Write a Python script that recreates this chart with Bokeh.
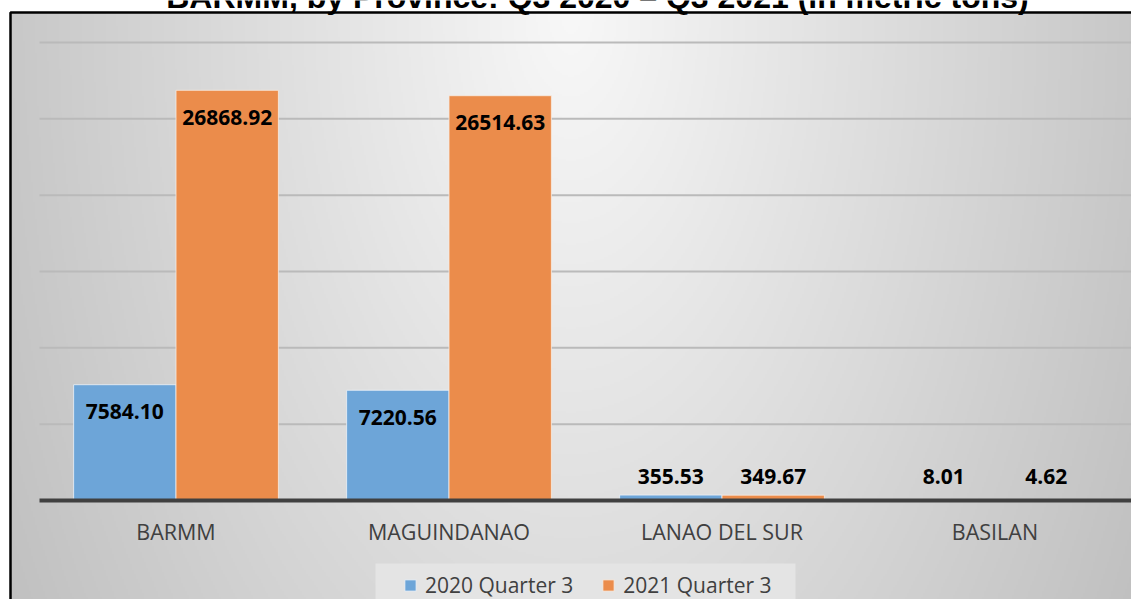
import numpy as np
from bokeh.plotting import figure
from bokeh.models import (ColumnDataSource, Range1d, LinearAxis, FixedTicker,
                          Legend, LegendItem, Label)
from bokeh.core.properties import value
from bokeh.embed import file_html
from bokeh.resources import INLINE

# ---------------- data ----------------
categories = ["BARMM", "MAGUINDANAO", "LANAO DEL SUR", "BASILAN"]
series_names = ["2020 Quarter 3", "2021 Quarter 3"]
q3_2020 = [7584.10, 7220.56, 355.53, 8.01]
q3_2021 = [26868.92, 26514.63, 349.67, 4.62]
grid_values = [5000, 10000, 15000, 20000, 25000, 30000]
title_text = "BARMM, by Province: Q3 2020 \u2013 Q3 2021 (in metric tons)"

# ---------------- layout (canvas pixels) ----------------
W, H = 1131, 599
CAT_PX = 273.0      # width of one category
X0_PX = 39.0        # left edge of first category
Y0_PX = 500.0       # canvas y of value 0
YTOP_PX = 42.0      # canvas y of value 30000
YREF = 30000.0
ppu = (Y0_PX - YTOP_PX) / YREF

x_start = -0.5 - X0_PX / CAT_PX
x_end = x_start + W / CAT_PX
y_end = Y0_PX / ppu
y_start = y_end - H / ppu


def px2x(cx):
    return x_start + cx / CAT_PX


def px2y(cy):
    return y_end - cy / ppu


p = figure(width=W, height=H, output_backend="svg", toolbar_location=None,
           x_axis_location=None, y_axis_location=None,
           x_range=Range1d(x_start, x_end), y_range=Range1d(y_start, y_end),
           min_border=0, outline_line_color=None)
p.background_fill_color = "white"
p.border_fill_color = "white"
p.xgrid.visible = False
p.ygrid.visible = False

# ---------------- gradient background ----------------
nx, ny = 566, 300
gx = np.linspace(0, 1, nx)
gy = np.linspace(1, 0, ny)  # row 0 = bottom
GX, GY = np.meshgrid(gx, gy)
r = np.sqrt(((GX - 0.5) / 0.5) ** 2 + (GY * 0.58) ** 2)
b = np.clip(248 - 48 * r, 188, 250).astype(np.uint8)
img = np.empty((ny, nx), dtype=np.uint32)
view = img.view(dtype=np.uint8).reshape((ny, nx, 4))
view[:, :, 0] = b
view[:, :, 1] = b
view[:, :, 2] = b
view[:, :, 3] = 255
bg_left, bg_top = px2x(10), px2y(12)
p.image_rgba(image=[img], x=bg_left, y=y_start, dw=x_end - bg_left, dh=bg_top - y_start)

# outer border (left and top visible)
p.quad(left=[px2x(10)], right=[px2x(W + 20)], top=[px2y(12)], bottom=[px2y(H + 20)],
       fill_color=None, line_color="black", line_width=2.5)

# gridlines
ng = len(grid_values)
p.segment(x0=[-0.5] * ng, x1=[len(categories) - 0.5] * ng, y0=grid_values, y1=grid_values,
          line_color="#bababa", line_width=2)

# ---------------- bars ----------------
BAR_W = 0.375
idx = np.arange(len(categories))
src1 = ColumnDataSource(dict(x=idx - BAR_W / 2, top=q3_2020))
src2 = ColumnDataSource(dict(x=idx + BAR_W / 2, top=q3_2021))
r1 = p.vbar(x="x", top="top", width=BAR_W, bottom=0, source=src1,
            fill_color="#6da5d8", line_color="#eef3f8", line_alpha=0.8, line_width=1)
r2 = p.vbar(x="x", top="top", width=BAR_W, bottom=0, source=src2,
            fill_color="#eb8c4b", line_color="#f8ece3", line_alpha=0.8, line_width=1)

# ---------------- data labels ----------------
lx, ly, lt, lo = [], [], [], []
for off, vals in ((-BAR_W / 2, q3_2020), (BAR_W / 2, q3_2021)):
    for i, v in enumerate(vals):
        lx.append(i + off)
        lt.append(f"{v:.2f}")
        if v * ppu > 45:       # inside end
            ly.append(v)
            lo.append(27)
        else:                  # too short: sits above the axis
            ly.append(0)
            lo.append(-24)
p.text(x="x", y="y", text="t", y_offset="o",
       source=ColumnDataSource(dict(x=lx, y=ly, t=lt, o=lo)),
       text_font=value("Open Sans"), text_font_style="bold", text_font_size="21px",
       text_color="black", text_align="center", text_baseline="middle")

# ---------------- category axis ----------------
xaxis = LinearAxis(fixed_location=0, bounds=(-0.5, len(categories) - 0.5))
xaxis.ticker = FixedTicker(ticks=list(range(len(categories))))
xaxis.major_label_overrides = {i: c for i, c in enumerate(categories)}
xaxis.axis_line_color = "#404040"
xaxis.axis_line_width = 4
xaxis.major_tick_line_color = None
xaxis.minor_tick_line_color = None
xaxis.major_label_text_font = "Open Sans"
xaxis.major_label_text_font_size = "21.5px"
xaxis.major_label_text_color = "#404040"
xaxis.major_label_standoff = 10
p.add_layout(xaxis, "below")

# ---------------- legend ----------------
p.quad(left=[px2x(375)], right=[px2x(795)], top=[px2y(563)], bottom=[px2y(609)],
       fill_color="#e4e4e4", line_color=None)
legend = Legend(items=[LegendItem(label=series_names[0], renderers=[r1]),
                       LegendItem(label=series_names[1], renderers=[r2])],
                location=(403, 0), orientation="horizontal",
                glyph_width=14, glyph_height=14, label_standoff=8, spacing=28,
                padding=8, margin=0, border_line_color=None, background_fill_alpha=0,
                label_text_font="Open Sans", label_text_font_size="21px",
                label_text_color="#404040")
p.add_layout(legend)

# ---------------- title (cut off at the top edge, as in the source) ----------------
p.add_layout(Label(x=px2x(597), y=px2y(-4), text=title_text, text_align="center",
                   text_baseline="alphabetic", text_font="Liberation Sans",
                   text_font_style="bold", text_font_size="32px", text_color="black"))

open("out.html", "w").write(file_html(p, INLINE))
